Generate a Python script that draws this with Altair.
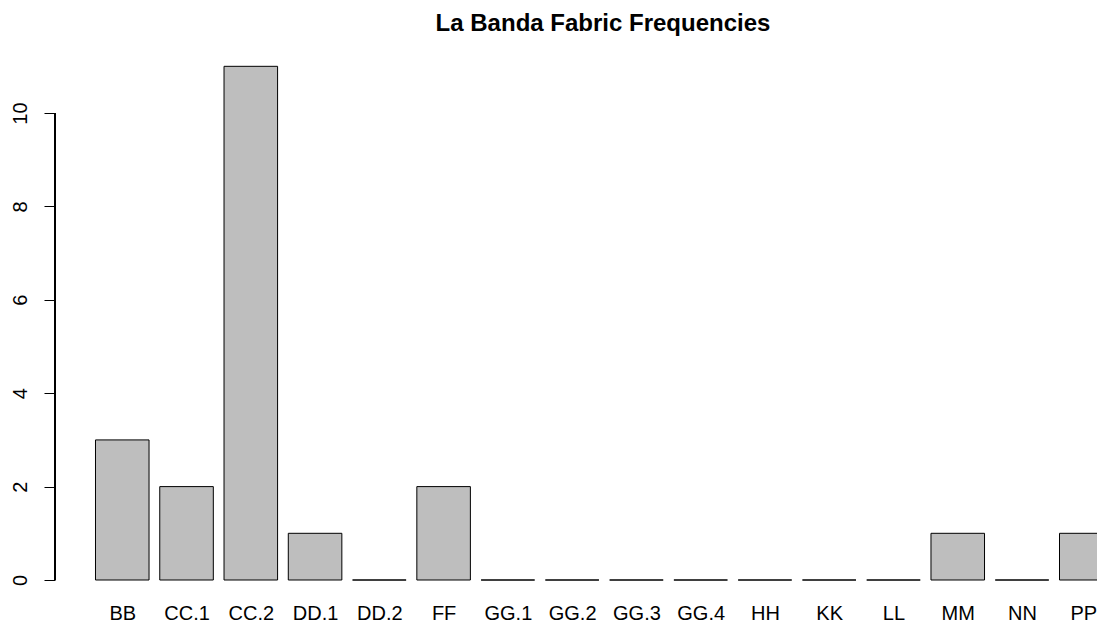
import altair as alt
import pandas as pd

categories = ["BB", "CC.1", "CC.2", "DD.1", "DD.2", "FF", "GG.1", "GG.2",
              "GG.3", "GG.4", "HH", "KK", "LL", "MM", "NN", "PP"]
counts = [3, 2, 11, 1, 0, 2, 0, 0, 0, 0, 0, 0, 0, 1, 0, 1]
y_ticks = [0, 2, 4, 6, 8, 10]

# R barplot layout: width 1, space 0.2
space = 0.2
bar_w = 1.0
left = [space + i * (bar_w + space) for i in range(len(categories))]
df = pd.DataFrame({
    "cat": categories,
    "count": counts,
    "x0": left,
    "x1": [l + bar_w for l in left],
    "xc": [l + bar_w / 2 for l in left],
})
centers = list(df["xc"])

FONT = "Liberation Sans"
xdom = [-0.556, 18.90]
ydom = [-0.214, 11.435]

label_js = "[" + ",".join('"%s"' % c for c in categories) + "]"

xscale = alt.Scale(domain=xdom, nice=False, zero=False)
yscale = alt.Scale(domain=ydom, nice=False, zero=False)

bars = alt.Chart(df).mark_rect(
    fill="#BEBEBE", stroke="#000000", strokeWidth=1, clip=True
).encode(
    x=alt.X("x0:Q", scale=xscale, axis=alt.Axis(
        values=centers, labelExpr=label_js + "[round((datum.value - 0.7) / 1.2)]",
        title=None, domain=False, ticks=False, grid=False,
        labelFont=FONT, labelFontSize=20, labelColor="#000000",
        labelPadding=23, labelBaseline="middle", labelAlign="center",
        labelOffset={"condition": {"test": "datum.value > 18", "value": -3}, "value": 0},
        labelOverlap=False, labelBound=False, labelFlush=False)),
    x2="x1:Q",
    y=alt.Y("count:Q", scale=yscale, axis=alt.Axis(
        values=y_ticks, title=None, domain=False, grid=False,
        tickSize=11, tickColor="#000000", tickWidth=1,
        labelAngle=270, labelFont=FONT, labelFontSize=20, labelColor="#000000",
        labelPadding=14, labelAlign="center", labelBaseline="bottom")),
    y2=alt.datum(0),
)

axis_line = alt.Chart(df).mark_rule(color="#000000", strokeWidth=1).encode(
    x=alt.value(0),
    y=alt.datum(min(y_ticks), scale=yscale),
    y2=alt.datum(max(y_ticks)),
)

chart = alt.layer(bars, axis_line).properties(
    width=1042,
    height=544,
    title=alt.TitleParams(
        "La Banda Fabric Frequencies", font=FONT, fontSize=24, fontWeight="bold",
        color="#000000", anchor="middle", frame="group", dx=27, offset=-9,
        baseline="alphabetic"),
    autosize=alt.AutoSizeParams(type="none"),
    padding={"left": 47, "top": 38, "right": 0, "bottom": 34},
    background="#FFFFFF",
).configure_view(stroke=None)

chart.save("out.html", embed_options={"renderer": "svg", "actions": False})
